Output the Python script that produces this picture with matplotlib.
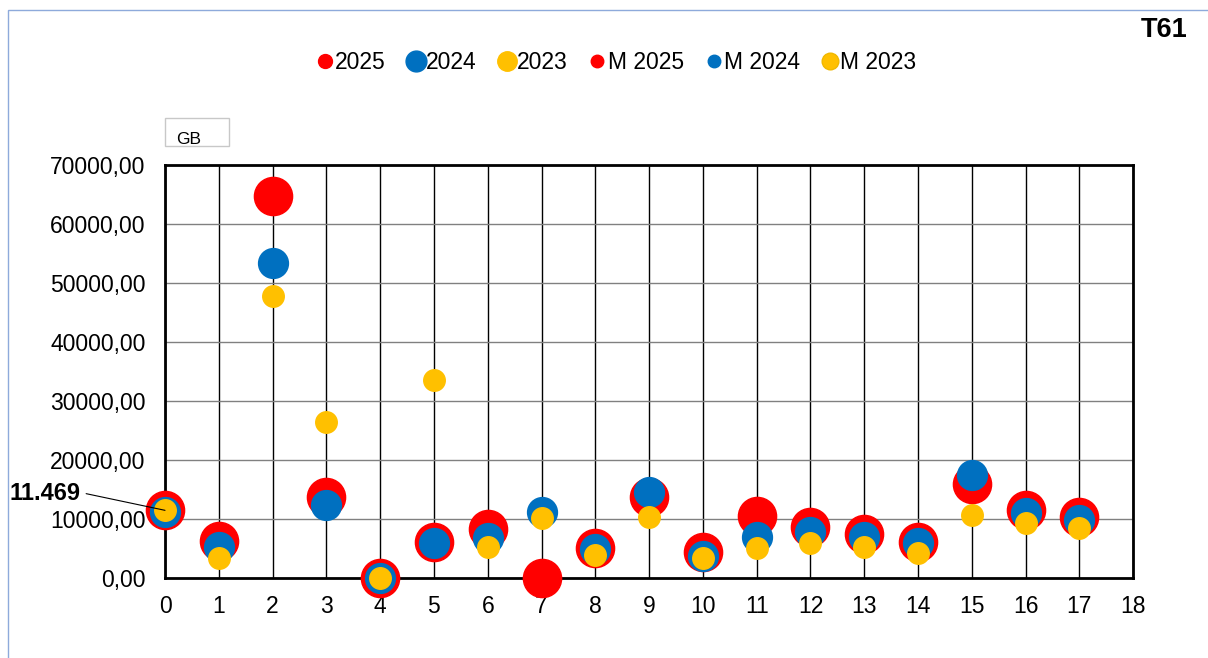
import matplotlib
matplotlib.use("Agg")
import matplotlib.pyplot as plt
from matplotlib.lines import Line2D
from matplotlib.patches import Rectangle
from matplotlib.ticker import FuncFormatter, MultipleLocator

plt.rcParams["font.family"] = ["Liberation Sans", "DejaVu Sans"]

# values
x_pos = list(range(18))
v2025 = [11469, 6270, 64700, 13700, 0, 6150, 8300, 0, 5100, 13700,
         4460, 10500, 8700, 7400, 6150, 15900, 11500, 10400]
v2024 = [11200, 5250, 53400, 12400, 0, 5900, 6800, 11200, 4900, 14600,
         3800, 7000, 7850, 7000, 5900, 17500, 11000, 9900]
v2023 = [11469, 3400, 47800, 26400, 0, 33600, 5250, 10200, 3900, 10300,
         3400, 5100, 5900, 5300, 4300, 10600, 9300, 8400]
legend_labels = ["2025", "2024", "2023", "M 2025", "M 2024", "M 2023"]

RED = "#ff0000"
BLUE = "#0070c0"
YELLOW = "#ffc000"

fig = plt.figure(figsize=(12.08, 6.58), dpi=100)
ax = fig.add_axes([0.1366, 0.1216, 0.8015, 0.6276])

# outer chart border (only left/top edges visible in the reference)
fig.patches.append(Rectangle((8 / 1208, -0.1), 1.2, 1 - 10 / 658 + 0.1,
                             transform=fig.transFigure, fill=False,
                             edgecolor="#8eaadb", linewidth=1.0))

ax.plot(x_pos, v2025, "o", color=RED, markersize=27.5, zorder=3, clip_on=False)
ax.plot(x_pos, v2024, "o", color=BLUE, markersize=21.5, zorder=4, clip_on=False)
ax.plot(x_pos, v2023, "o", color=YELLOW, markersize=15.5, zorder=5, clip_on=False)

ax.set_xlim(0, 18)
ax.set_ylim(0, 70000)
ax.xaxis.set_major_locator(MultipleLocator(1))
ax.yaxis.set_major_locator(MultipleLocator(10000))
ax.yaxis.set_major_formatter(FuncFormatter(lambda v, p: f"{v:.2f}".replace(".", ",")))
ax.tick_params(length=0, labelsize=16.5)
ax.tick_params(axis="x", pad=12)
ax.tick_params(axis="y", pad=14)
ax.grid(axis="x", color="black", linewidth=1.0, zorder=1)
ax.grid(axis="y", color="#808080", linewidth=1.0, zorder=1)
ax.set_axisbelow(True)
for s in ax.spines.values():
    s.set_linewidth(2.0)
    s.set_color("black")

# data callout on the first point
ax.annotate("11.469", xy=(0, 11469), xytext=(-112, 12), textcoords="offset points",
            fontsize=17, fontweight="bold", ha="left", va="center",
            arrowprops=dict(arrowstyle="-", color="black", lw=0.8,
                            shrinkA=0, shrinkB=0, relpos=(1.08, 0.5)), zorder=6)

# legend
handles = [
    Line2D([], [], marker="o", ls="", color=RED, markersize=10),
    Line2D([], [], marker="o", ls="", color=BLUE, markersize=15),
    Line2D([], [], marker="o", ls="", color=YELLOW, markersize=14),
    Line2D([], [], marker="o", ls="", color=RED, markersize=9),
    Line2D([], [], marker="o", ls="", color=BLUE, markersize=9),
    Line2D([], [], marker="o", ls="", color=YELLOW, markersize=12,
           markeredgecolor="#f0b800"),
]
fig.legend(handles, legend_labels, loc="center", bbox_to_anchor=(0.509, 0.905),
           ncol=6, frameon=False, fontsize=16.5, handletextpad=-0.05,
           columnspacing=0.8, handlelength=1.0)

fig.text(0.9635, 0.955, "T61", fontsize=19.5, fontweight="bold", ha="center", va="center")

# unit box
fig.patches.append(Rectangle((165 / 1208, 1 - 146 / 658), 64 / 1208, 28 / 658,
                             transform=fig.transFigure, fill=False,
                             edgecolor="#c8c8c8", linewidth=1.0))
fig.text(189 / 1208, 1 - 139 / 658, "GB", fontsize=12.5, ha="center", va="center")

fig.savefig("out.png", dpi=100)
